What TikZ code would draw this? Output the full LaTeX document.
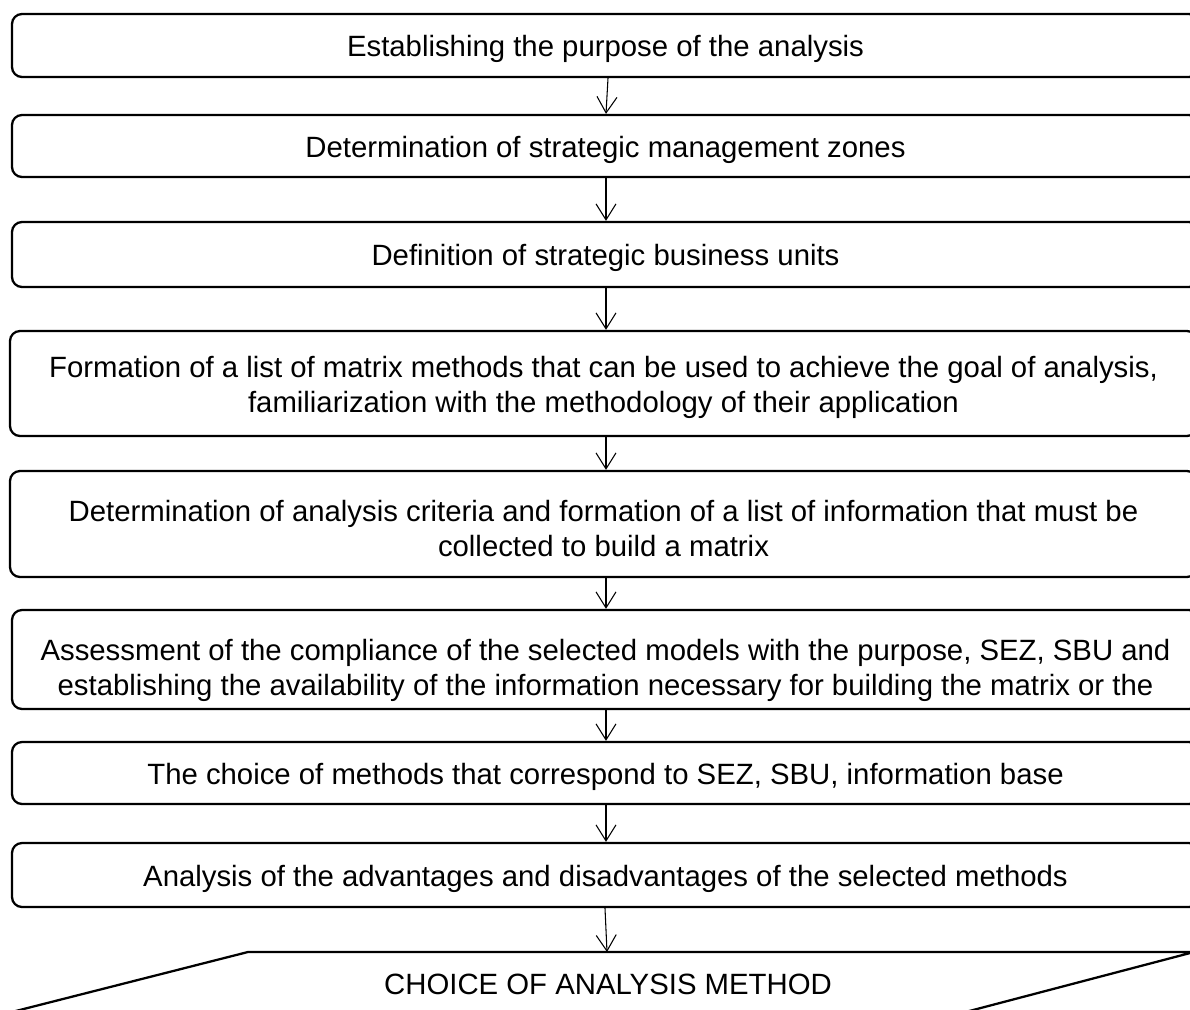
\documentclass[tikz,border=0pt]{standalone}
\usepackage{fontspec}
\setmainfont{Liberation Sans}
\usetikzlibrary{arrows.meta}
\begin{document}
\begin{tikzpicture}[x=0.75pt,y=-0.75pt,
  box/.style={draw=black, line width=1.7pt, rounded corners=7.5pt, minimum width={1187*0.75pt}, inner sep=0pt},
  txt/.style={align=center, inner sep=0pt, font=\fontsize{22pt}{26.3pt}\selectfont, yshift=-2.6pt},
  arr/.style={draw=black, line width=0.8pt, -{Straight Barb[length=12pt,width=15pt,line width=0.8pt]}},
  lbl/.style={font=\fontsize{22pt}{26.3pt}\selectfont, inner sep=0pt}]
\useasboundingbox (0,0) rectangle (1190,1010);
\clip (0,0) rectangle (1190,1010);
\node[box, minimum height={63*0.75pt}]  (b1) at (605.5,45.5) {};
\node[box, minimum height={62*0.75pt}]  (b2) at (605.5,146) {};
\node[box, minimum height={65*0.75pt}]  (b3) at (605.5,254.5) {};
\node[box, minimum height={105*0.75pt}] (b4) at (603.5,383.5) {};
\node[box, minimum height={106*0.75pt}] (b5) at (603.5,524) {};
\node[box, minimum height={99*0.75pt}]  (b6) at (605.5,659.5) {};
\node[box, minimum height={62*0.75pt}]  (b7) at (605.5,773) {};
\node[box, minimum height={64*0.75pt}]  (b8) at (605.5,875) {};
\node[txt] (t1) at (b1.center) {Establishing the purpose of the analysis};
\node[txt] (t2) at (b2.center) {Determination of strategic management zones};
\node[txt] (t3) at (b3.center) {Definition of strategic business units};
\node[txt] (t4) at (b4.center) {Formation of a list of matrix methods that can be used to achieve the goal of analysis,\\familiarization with the methodology of their application};
\node[txt, yshift=-1pt] (t5) at (b5.center) {Determination of analysis criteria and formation of a list of information that must be\\collected to build a matrix};
\node[txt, yshift=-5.6pt] (t6) at (b6.center) {Assessment of the compliance of the selected models with the purpose, SEZ, SBU and\\establishing the availability of the information necessary for building the matrix or the};
\node[txt] (t7) at (b7.center) {The choice of methods that correspond to SEZ, SBU, information base};
\node[txt] (t8) at (b8.center) {Analysis of the advantages and disadvantages of the selected methods};
% final parallelogram
\draw[line width=1.7pt, line join=miter] (-59,1030) -- (248,952) -- (1194,952) -- (897,1030);
\coordinate (ptop) at (607,952);
\node[lbl] (final) at (608,984) {CHOICE OF ANALYSIS METHOD};
\coordinate (ax) at (606,0);
\draw[arr] (b1.south -| 608,0) -- (b2.north -| ax);
\draw[arr] (b2.south -| ax) -- (b3.north -| ax);
\draw[arr] (b3.south -| ax) -- (b4.north -| ax);
\draw[arr] (b4.south -| ax) -- (b5.north -| ax);
\draw[arr] (b5.south -| ax) -- (b6.north -| ax);
\draw[arr] (b6.south -| ax) -- (b7.north -| ax);
\draw[arr] (b7.south -| ax) -- (b8.north -| ax);
\draw[arr] (b8.south -| 605,0) -- (ptop);
\end{tikzpicture}
\end{document}
